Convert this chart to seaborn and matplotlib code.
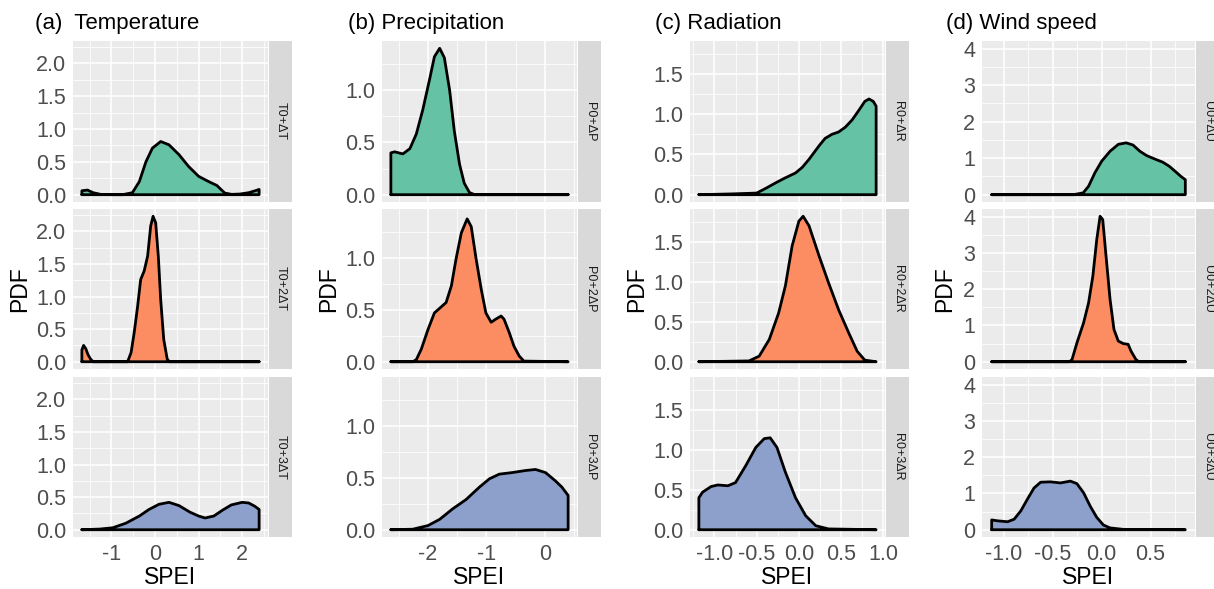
import matplotlib
matplotlib.use("Agg")
import matplotlib.pyplot as plt
from matplotlib.ticker import MultipleLocator, FormatStrFormatter
import seaborn as sns

# Density curves (x = SPEI, y = PDF)
# (a) Temperature
T1_X = [-1.68, -1.55, -1.42, -1.25, -1.0, -0.75, -0.52, -0.36, -0.21, -0.06, 0.13, 0.32,
        0.55, 0.77, 1.0, 1.23, 1.42, 1.6, 1.76, 1.95, 2.15, 2.3, 2.39]
T1_Y = [0.06, 0.07, 0.03, 0.005, 0.0, 0.0, 0.03, 0.2, 0.5, 0.71, 0.81, 0.76,
        0.61, 0.43, 0.28, 0.2, 0.14, 0.025, 0.005, 0.01, 0.03, 0.06, 0.08]
T2_X = [-1.68, -1.64, -1.59, -1.54, -1.48, -1.42, -1.0, -0.63, -0.55, -0.48, -0.4, -0.33,
        -0.25, -0.17, -0.1, -0.045, 0.015, 0.076, 0.13, 0.2, 0.28, 0.33, 1.0, 2.39]
T2_Y = [0.18, 0.25, 0.2, 0.11, 0.04, 0.0, 0.0, 0.0, 0.14, 0.44, 0.85, 1.26,
        1.39, 1.62, 2.08, 2.23, 2.13, 1.61, 0.95, 0.34, 0.04, 0.0, 0.0, 0.0]
T3_X = [-1.68, -1.27, -0.97, -0.67, -0.36, -0.14, 0.09, 0.32, 0.55, 0.8, 1.0, 1.15, 1.35,
        1.55, 1.75, 2.0, 2.15, 2.29, 2.39]
T3_Y = [0.0, 0.01, 0.03, 0.1, 0.21, 0.31, 0.39, 0.42, 0.37, 0.27, 0.21, 0.18, 0.21,
        0.3, 0.38, 0.42, 0.41, 0.36, 0.31]

# (b) Precipitation
P1_X = [-2.635, -2.57, -2.43, -2.31, -2.2, -2.09, -1.97, -1.89, -1.8, -1.72, -1.63, -1.55,
        -1.46, -1.38, -1.29, -1.2, 0.0, 0.397]
P1_Y = [0.40, 0.41, 0.39, 0.44, 0.58, 0.81, 1.11, 1.32, 1.40, 1.31, 1.0, 0.61,
        0.29, 0.11, 0.02, 0.0, 0.0, 0.0]
P2_X = [-2.635, -2.26, -2.2, -2.115, -2.0, -1.89, -1.77, -1.69, -1.6, -1.52, -1.43, -1.33,
        -1.26, -1.18, -1.09, -1.01, -0.92, -0.84, -0.75, -0.7, -0.61, -0.53, -0.44, -0.36, 0.397]
P2_Y = [0.0, 0.0, 0.02, 0.12, 0.31, 0.47, 0.53, 0.57, 0.73, 0.99, 1.24, 1.375,
        1.3, 1.0, 0.7, 0.47, 0.38, 0.41, 0.44, 0.41, 0.28, 0.15, 0.055, 0.006, 0.0]
P3_X = [-2.635, -2.26, -2.0, -1.8, -1.58, -1.35, -1.12, -0.95, -0.78, -0.56, -0.33, -0.16,
        0.01, 0.18, 0.29, 0.397]
P3_Y = [0.0, 0.005, 0.04, 0.10, 0.2, 0.29, 0.41, 0.49, 0.535, 0.55, 0.57, 0.58,
        0.55, 0.47, 0.41, 0.33]

# (c) Radiation
R1_X = [-1.184, -0.78, -0.5, -0.39, -0.27, -0.16, -0.04, 0.04, 0.12, 0.24, 0.31, 0.39,
        0.47, 0.55, 0.63, 0.71, 0.78, 0.83, 0.88, 0.914]
R1_Y = [0.0, 0.01, 0.02, 0.08, 0.15, 0.21, 0.27, 0.34, 0.44, 0.61, 0.70, 0.75,
        0.78, 0.84, 0.93, 1.05, 1.16, 1.19, 1.16, 1.10]
R2_X = [-1.184, -0.59, -0.47, -0.35, -0.24, -0.16, -0.08, 0.0, 0.05, 0.12, 0.24, 0.35,
        0.47, 0.59, 0.69, 0.78, 0.914]
R2_Y = [0.0, 0.01, 0.07, 0.28, 0.61, 0.95, 1.45, 1.76, 1.82, 1.70, 1.32, 0.99,
        0.65, 0.36, 0.13, 0.02, 0.0]
R3_X = [-1.184, -1.14, -1.04, -0.96, -0.84, -0.75, -0.63, -0.51, -0.41, -0.34, -0.26, -0.16,
        -0.04, 0.08, 0.2, 0.35, 0.914]
R3_Y = [0.40, 0.47, 0.54, 0.56, 0.55, 0.59, 0.80, 1.03, 1.14, 1.15, 1.03, 0.72,
        0.40, 0.175, 0.05, 0.01, 0.0]

# (d) Wind speed
U1_X = [-1.126, -0.29, -0.19, -0.135, -0.07, 0.0, 0.085, 0.17, 0.25, 0.32, 0.39, 0.46,
        0.54, 0.625, 0.69, 0.76, 0.81, 0.855]
U1_Y = [0.0, 0.0, 0.05, 0.23, 0.6, 0.92, 1.19, 1.38, 1.42, 1.36, 1.19, 1.07,
        0.98, 0.89, 0.78, 0.62, 0.5, 0.41]
U2_X = [-1.126, -0.33, -0.304, -0.254, -0.186, -0.135, -0.091, -0.051, -0.017, 0.01, 0.044,
        0.085, 0.125, 0.169, 0.22, 0.27, 0.3, 0.35, 0.38, 0.855]
U2_Y = [0.0, 0.0, 0.06, 0.52, 1.07, 1.62, 2.36, 3.37, 4.01, 3.92, 2.91,
        1.72, 0.89, 0.57, 0.50, 0.48, 0.29, 0.06, 0.0, 0.0]
U3_X = [-1.126, -1.065, -0.963, -0.896, -0.828, -0.761, -0.693, -0.625, -0.524, -0.423,
        -0.321, -0.254, -0.186, -0.118, -0.051, 0.017, 0.085, 0.22, 0.855]
U3_Y = [0.27, 0.245, 0.22, 0.29, 0.52, 0.84, 1.15, 1.31, 1.32, 1.29,
        1.34, 1.27, 1.02, 0.65, 0.34, 0.13, 0.05, 0.01, 0.0]

TITLES = ["(a)  Temperature", "(b) Precipitation", "(c) Radiation", "(d) Wind speed"]
STRIPS = [["T0+\u0394T", "T0+2\u0394T", "T0+3\u0394T"],
          ["P0+\u0394P", "P0+2\u0394P", "P0+3\u0394P"],
          ["R0+\u0394R", "R0+2\u0394R", "R0+3\u0394R"],
          ["U0+\u0394U", "U0+2\u0394U", "U0+3\u0394U"]]
CURVES = [[(T1_X, T1_Y), (T2_X, T2_Y), (T3_X, T3_Y)],
          [(P1_X, P1_Y), (P2_X, P2_Y), (P3_X, P3_Y)],
          [(R1_X, R1_Y), (R2_X, R2_Y), (R3_X, R3_Y)],
          [(U1_X, U1_Y), (U2_X, U2_Y), (U3_X, U3_Y)]]
FILLS = sns.color_palette("Set2", 3)

# axis styling per column: x major step, x fmt, y major step, y fmt
X_STEP = [1.0, 1.0, 0.5, 0.5]
X_FMT = ["%.0f", "%.0f", "%.1f", "%.1f"]
Y_STEP = [0.5, 0.5, 0.5, 1.0]
Y_FMT = ["%.1f", "%.1f", "%.1f", "%.0f"]

sns.set_theme(style="darkgrid", rc={"axes.facecolor": "#EBEBEB", "grid.color": "white"})
plt.rcParams["font.family"] = ["Liberation Sans", "DejaVu Sans"]
plt.rcParams["axes.unicode_minus"] = False

W, H = 1214, 589
fig = plt.figure(figsize=(W / 100, H / 100), dpi=100)
fig.patch.set_facecolor("white")


def box(x0, y0, x1, y1):
    return [x0 / W, 1 - y1 / H, (x1 - x0) / W, (y1 - y0) / H]


col_left = [73, 382, 690, 982]
col_right = [268, 577, 885, 1195]
row_top = [41, 209, 377]
row_bot = [202, 369, 537]
title_x = [35, 348, 655, 946]
ylab_x = [20, 329, 637, 945]

for c in range(4):
    all_x = [v for xs, _ in CURVES[c] for v in xs]
    all_y = [v for _, ys in CURVES[c] for v in ys]
    xr = max(all_x) - min(all_x)
    xlim = (min(all_x) - 0.05 * xr, max(all_x) + 0.05 * xr)
    ylim = (-0.05 * max(all_y), 1.05 * max(all_y))

    for r in range(3):
        ax = fig.add_axes(box(col_left[c], row_top[r], col_right[c], row_bot[r]))
        xs, ys = CURVES[c][r]
        ax.fill_between(xs, 0, ys, color=FILLS[r], lw=0, zorder=2)
        px = [xs[0]] + list(xs) + [xs[-1], xs[0]]
        py = [0.0] + list(ys) + [0.0, 0.0]
        sns.lineplot(x=px, y=py, sort=False, estimator=None, color="black",
                     lw=2.0, ax=ax, zorder=3)
        ax.lines[-1].set_solid_joinstyle("round")
        ax.set_xlim(xlim)
        ax.set_ylim(ylim)
        ax.xaxis.set_major_locator(MultipleLocator(X_STEP[c]))
        ax.xaxis.set_minor_locator(MultipleLocator(X_STEP[c] / 2))
        ax.yaxis.set_major_locator(MultipleLocator(Y_STEP[c]))
        ax.yaxis.set_minor_locator(MultipleLocator(Y_STEP[c] / 2))
        ax.xaxis.set_major_formatter(FormatStrFormatter(X_FMT[c]))
        ax.yaxis.set_major_formatter(FormatStrFormatter(Y_FMT[c]))
        ax.grid(which="major", color="white", lw=1.1)
        ax.grid(which="minor", color="white", lw=0.55)
        for s in ax.spines.values():
            s.set_visible(False)
        ax.set_xlabel("")
        ax.set_ylabel("")
        ax.tick_params(which="major", length=3.5, width=0.8, color="#333333",
                       labelcolor="#4D4D4D", labelsize=15.5, pad=1.5)
        ax.tick_params(which="minor", length=0)
        if r < 2:
            ax.tick_params(axis="x", which="major", length=0, labelbottom=False)

        # facet strip on the right
        sax = fig.add_axes(box(col_right[c] + 1, row_top[r], col_right[c] + 24, row_bot[r]))
        sax.set_facecolor("#D9D9D9")
        sax.grid(False)
        sax.set_xticks([])
        sax.set_yticks([])
        for s in sax.spines.values():
            s.set_visible(False)
        sax.text(0.5, 0.5, STRIPS[c][r], rotation=270, ha="center", va="center",
                 fontsize=9, color="#1A1A1A", transform=sax.transAxes)

    fig.text(title_x[c] / W, 1 - 24 / H, TITLES[c], ha="left", va="center",
             fontsize=16, color="black")
    fig.text(ylab_x[c] / W, 1 - 289 / H, "PDF", rotation=90, ha="center",
             va="center", fontsize=16.5, color="black")
    fig.text((col_left[c] + col_right[c]) / 2 / W, 1 - 577 / H, "SPEI",
             ha="center", va="center", fontsize=16.5, color="black")

fig.savefig("out.png", dpi=100)
